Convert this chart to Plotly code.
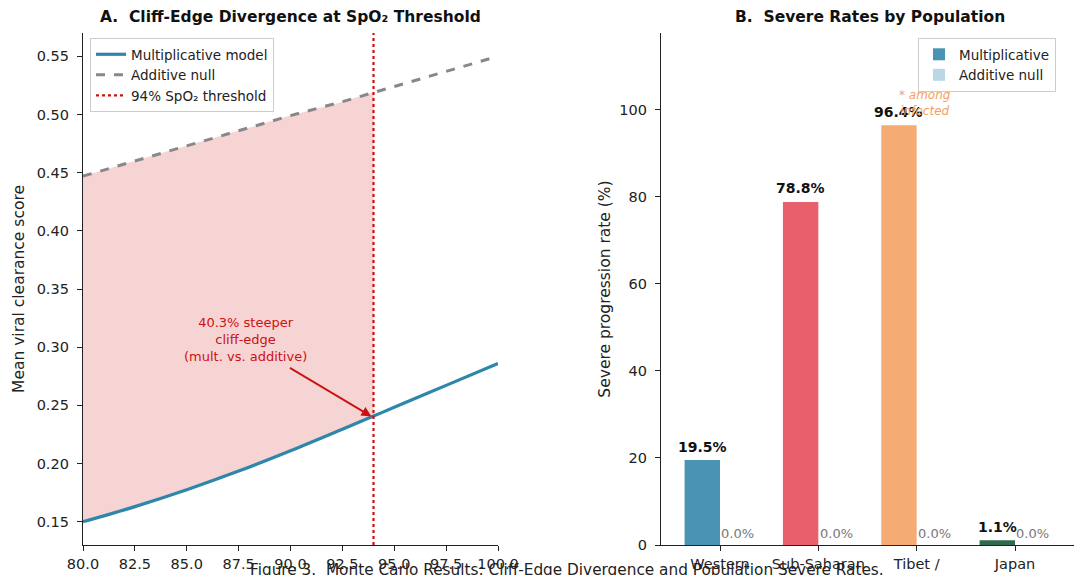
import plotly.graph_objects as go

# ---- Panel A data ----
spo2 = [80, 82.5, 85, 87.5, 90, 92.5, 94, 95, 97.5, 100]
mult_score = [0.150, 0.163, 0.1775, 0.1935, 0.211, 0.2295, 0.2408, 0.2483, 0.2672, 0.286]
add_score = [0.447, 0.460, 0.473, 0.486, 0.499, 0.511, 0.519, 0.524, 0.537, 0.550]
threshold = 94
steeper_pct = 40.3

# ---- Panel B data ----
populations = ["Western", "Sub-Saharan", "Tibet /", "Japan"]
mult_rates = [19.5, 78.8, 96.4, 1.1]
add_rates = [0.0, 0.0, 0.0, 0.0]
bar_colors = ["#4a93b5", "#e8606c", "#f4ac74", "#2f6b4c"]
light_colors = ["#b9d7e4", "#f5c3c7", "#fbdcc4", "#b8cfc3"]

FONT = "DejaVu Sans"
fig = go.Figure()

# fill region (80..threshold)
xf = [x for x in spo2 if x <= threshold]
af = [a for x, a in zip(spo2, add_score) if x <= threshold]
mf = [m for x, m in zip(spo2, mult_score) if x <= threshold]
fig.add_trace(go.Scatter(x=xf, y=af, mode="lines", line=dict(width=0, shape="spline"),
                         showlegend=False, hoverinfo="skip", xaxis="x", yaxis="y"))
fig.add_trace(go.Scatter(x=xf, y=mf, mode="lines", line=dict(width=0, shape="spline"),
                         fill="tonexty", fillcolor="rgba(214,40,40,0.2)",
                         showlegend=False, hoverinfo="skip", xaxis="x", yaxis="y"))

fig.add_trace(go.Scatter(x=spo2, y=mult_score, mode="lines", name="Multiplicative model",
                         line=dict(color="#2e86ab", width=3.2, shape="spline"),
                         xaxis="x", yaxis="y", legend="legend"))
fig.add_trace(go.Scatter(x=spo2, y=add_score, mode="lines", name="Additive null",
                         line=dict(color="#888888", width=3, dash="dash"),
                         xaxis="x", yaxis="y", legend="legend"))
fig.add_trace(go.Scatter(x=[threshold, threshold], y=[0.13, 0.57], mode="lines",
                         name="94% SpO₂ threshold",
                         line=dict(color="#cc1111", width=2.2, dash="dot"),
                         xaxis="x", yaxis="y", legend="legend"))

# Panel B bars
xs = list(range(len(populations)))
fig.add_trace(go.Bar(x=xs, y=mult_rates, width=0.36, offset=-0.36, name="Multiplicative",
                     marker=dict(color=bar_colors, line=dict(width=0)),
                     xaxis="x2", yaxis="y2", legend="legend2"))
fig.add_trace(go.Bar(x=xs, y=add_rates, width=0.36, offset=0.0, name="Additive null",
                     marker=dict(color=light_colors, line=dict(width=0)),
                     xaxis="x2", yaxis="y2", legend="legend2"))

annotations = []
for i, (m, a) in enumerate(zip(mult_rates, add_rates)):
    annotations.append(dict(x=i - 0.18, y=m + 0.8, xref="x2", yref="y2", text=f"<b>{m:.1f}%</b>",
                            showarrow=False, xanchor="center", yanchor="bottom",
                            font=dict(family=FONT, size=14, color="#111111")))
    annotations.append(dict(x=i + 0.18, y=a + 0.5, xref="x2", yref="y2", text=f"{a:.1f}%",
                            showarrow=False, xanchor="center", yanchor="bottom",
                            font=dict(family=FONT, size=13, color="#777777")))
annotations.append(dict(x=2.08, y=101.5, xref="x2", yref="y2", text="<i>* among<br>infected</i>",
                        showarrow=False, xanchor="center",
                        font=dict(family=FONT, size=12, color="#f4a261")))

# Panel A annotation
annotations.append(dict(x=87.85, y=0.307, xref="x", yref="y",
                        text=f"{steeper_pct}% steeper<br>cliff-edge<br>(mult. vs. additive)",
                        showarrow=False, xanchor="center",
                        font=dict(family=FONT, size=13, color="#cc1111")))
annotations.append(dict(x=93.9, y=0.2405, ax=89.9, ay=0.283, xref="x", yref="y",
                        axref="x", ayref="y", text="", showarrow=True, arrowhead=2,
                        arrowsize=1.1, arrowwidth=1.8, arrowcolor="#cc1111"))

# titles
annotations.append(dict(x=290 / 1074, y=1 - 17 / 575, xref="paper", yref="paper",
                        xanchor="center", yanchor="middle",
                        text="<b>A.  Cliff-Edge Divergence at SpO₂ Threshold</b>", showarrow=False,
                        font=dict(family=FONT, size=15.5, color="#111111")))
annotations.append(dict(x=870 / 1074, y=1 - 17 / 575, xref="paper", yref="paper",
                        xanchor="center", yanchor="middle",
                        text="<b>B.  Severe Rates by Population</b>", showarrow=False,
                        font=dict(family=FONT, size=15.5, color="#111111")))
annotations.append(dict(x=567 / 1074, y=1 - 559 / 575, xref="paper", yref="paper",
                        xanchor="center", yanchor="top",
                        text="Figure 3.  Monte Carlo Results: Cliff-Edge Divergence and Population Severe Rates.",
                        showarrow=False, font=dict(family=FONT, size=15.3, color="#222222")))

axis_common = dict(showline=True, linecolor="#222222", linewidth=1.3, ticks="outside",
                   ticklen=5, tickcolor="#222222", tickwidth=1.2, showgrid=False, zeroline=False,
                   tickfont=dict(family=FONT, size=14.5, color="#222222"), mirror=False,
                   automargin=False)

fig.update_layout(
    width=1074, height=575, margin=dict(l=0, r=0, t=0, b=0, autoexpand=False),
    paper_bgcolor="white", plot_bgcolor="white",
    font=dict(family=FONT, size=13, color="#222222"),
    xaxis=dict(domain=[83 / 1074, 498 / 1074], range=[80, 100], tickvals=spo2[:6] + spo2[7:],
               tickformat=".1f", anchor="y", **axis_common),
    yaxis=dict(domain=[1 - 545 / 575, 1 - 33 / 575], range=[0.13, 0.57], dtick=0.05,
               tickformat=".2f", anchor="x", ticklabelstandoff=5,
               title=dict(text="Mean viral clearance score", font=dict(family=FONT, size=15.5), standoff=8),
               **axis_common),
    xaxis2=dict(domain=[661 / 1074, 1.0], range=[-0.6, 3.6], tickvals=xs, ticktext=populations,
                anchor="y2", **axis_common),
    yaxis2=dict(domain=[1 - 545 / 575, 1 - 33 / 575], range=[0, 117.6], dtick=20, anchor="x2",
                ticklabelstandoff=5,
                title=dict(text="Severe progression rate (%)", font=dict(family=FONT, size=15.5), standoff=4),
                **axis_common),
    legend=dict(x=90 / 1074, y=1 - 38 / 575, xanchor="left", yanchor="top", traceorder="normal",
                bgcolor="rgba(255,255,255,0.85)", bordercolor="#cccccc", borderwidth=1,
                font=dict(family=FONT, size=13.5, color="#222222"), tracegroupgap=0),
    legend2=dict(x=918 / 1074, y=1 - 38 / 575, xanchor="left", yanchor="top", traceorder="normal",
                 bgcolor="rgba(255,255,255,0.85)", bordercolor="#cccccc", borderwidth=1,
                 font=dict(family=FONT, size=13.5, color="#222222")),
    annotations=annotations,
    showlegend=True,
)

fig.write_html("out.html")
